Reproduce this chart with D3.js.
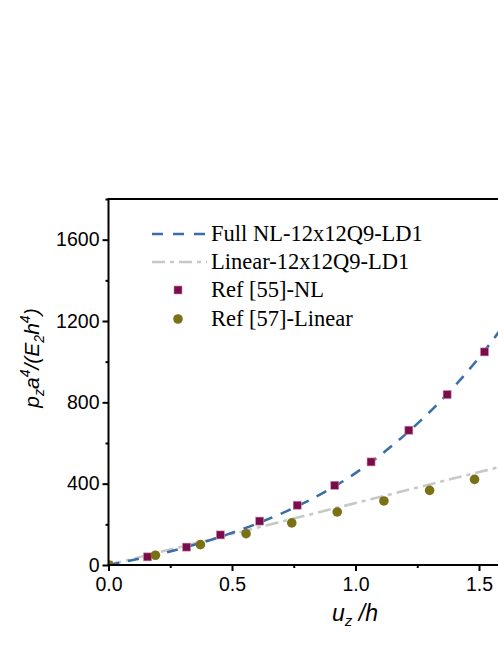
<!DOCTYPE html>
<html>
<head>
<meta charset="utf-8">
<script src="https://cdn.jsdelivr.net/npm/d3@7"></script>
<style>
  body { margin: 0; background: #fff; }
  svg { display: block; }
</style>
</head>
<body>
<svg id="chart" width="498" height="645"></svg>
<script>
// Full NL-12x12Q9-LD1 (dashed curve)
const nlX = [0, 0.2, 0.4, 0.6, 0.8, 1.0, 1.2, 1.4, 1.6, 1.7];
const nlY = [0, 52, 118, 203, 310, 452, 640, 878, 1180, 1365];

// Linear-12x12Q9-LD1 (dash-dot line)
const linX = [0, 1.7];
const linY = [0, 518];

// Ref [55]-NL squares
const sqX = [0, 0.158, 0.316, 0.453, 0.612, 0.764, 0.916, 1.063, 1.216, 1.371, 1.522];
const sqY = [0, 40, 88, 148, 216, 294, 392, 507, 663, 838, 1048];

// Ref [57]-Linear circles
const ciX = [0, 0.19, 0.372, 0.557, 0.742, 0.926, 1.115, 1.3, 1.482];
const ciY = [0, 48, 100, 154, 207, 261, 315, 367, 421];

const xMajor = [0, 0.5, 1.0, 1.5];
const xMinor = [0.25, 0.75, 1.25, 1.75];
const yMajor = [0, 400, 800, 1200, 1600];
const yMinor = [200, 600, 1000, 1400, 1800];

const legendNames = ["Full NL-12x12Q9-LD1", "Linear-12x12Q9-LD1", "Ref [55]-NL", "Ref [57]-Linear"];

var blue = "#3a6ea6",
  gray = "#c8c8c8",
  maroon = "#7a0c4b",
  olive = "#7a7117";

var svg = d3.select("#chart");

var x = d3.scaleLinear().domain([0, 2]).range([108.5, 602.5]);
var y = d3.scaleLinear().domain([0, 1800]).range([565, 199]);

var zip = function (xs, ys) {
  return xs.map(function (v, i) {
    return [v, ys[i]];
  });
};

svg
  .append("clipPath")
  .attr("id", "plotClip")
  .append("rect")
  .attr("x", x(0))
  .attr("y", y(1800))
  .attr("width", x(2) - x(0))
  .attr("height", y(0) - y(1800));

var plot = svg.append("g").attr("clip-path", "url(#plotClip)");

var line = d3
  .line()
  .x(function (d) { return x(d[0]); })
  .y(function (d) { return y(d[1]); })
  .curve(d3.curveMonotoneX);

plot
  .append("path")
  .datum(zip(linX, linY))
  .attr("d", line)
  .attr("fill", "none")
  .attr("stroke", gray)
  .attr("stroke-width", 2.6)
  .attr("stroke-dasharray", "13,5,4,5");

plot
  .append("path")
  .datum(zip(nlX, nlY))
  .attr("d", line)
  .attr("fill", "none")
  .attr("stroke", blue)
  .attr("stroke-width", 2.6)
  .attr("stroke-dasharray", "11,9");

plot
  .selectAll("rect.sq")
  .data(zip(sqX, sqY))
  .enter()
  .append("rect")
  .attr("class", "sq")
  .attr("x", function (d) { return x(d[0]) - 4; })
  .attr("y", function (d) { return y(d[1]) - 4; })
  .attr("width", 8)
  .attr("height", 8)
  .attr("fill", maroon)
  .attr("stroke", "#c98aaa")
  .attr("stroke-width", 0.6);

plot
  .selectAll("circle.ci")
  .data(zip(ciX, ciY))
  .enter()
  .append("circle")
  .attr("class", "ci")
  .attr("cx", function (d) { return x(d[0]); })
  .attr("cy", function (d) { return y(d[1]); })
  .attr("r", 4.8)
  .attr("fill", olive);

// axes
var xAxis = d3.axisBottom(x).tickValues(xMajor).tickSize(6).tickPadding(6)
  .tickFormat(d3.format(".1f"));
var xAxisMinor = d3.axisBottom(x).tickValues(xMinor).tickSize(3).tickFormat("");
var yAxis = d3.axisLeft(y).tickValues(yMajor).tickSize(6).tickPadding(3)
  .tickFormat(d3.format("d"));
var yAxisMinor = d3.axisLeft(y).tickValues(yMinor).tickSize(3).tickFormat("");

function styleAxis(g) {
  g.select(".domain").remove();
  g.selectAll("line").attr("stroke", "#000").attr("stroke-width", 2);
  g.selectAll("text")
    .attr("fill", "#000")
    .attr("font-family", "Liberation Sans, Arial, sans-serif")
    .attr("font-size", "19.5px");
}

svg.append("g").attr("transform", "translate(0," + y(0) + ")").call(xAxis).call(styleAxis);
svg.append("g").attr("transform", "translate(0," + y(0) + ")").call(xAxisMinor).call(styleAxis);
svg.append("g").attr("transform", "translate(" + x(0) + ",0)").call(yAxis).call(styleAxis);
svg.append("g").attr("transform", "translate(" + x(0) + ",0)").call(yAxisMinor).call(styleAxis);

// frame: left, bottom, top
svg
  .append("path")
  .attr("d", "M" + x(2) + "," + y(1800) + "H" + x(0) + "V" + y(0) + "H" + x(2))
  .attr("fill", "none")
  .attr("stroke", "#000")
  .attr("stroke-width", 2);

// axis titles
var xt = svg
  .append("text")
  .attr("x", 355)
  .attr("y", 621)
  .attr("text-anchor", "middle")
  .attr("font-family", "Liberation Sans, Arial, sans-serif")
  .attr("font-size", "23px")
  .attr("font-style", "italic");
xt.append("tspan").text("u");
xt.append("tspan").attr("font-size", "15px").attr("dy", 5).text("z");
xt.append("tspan").attr("dy", -5).text(" /h");

var yt = svg
  .append("text")
  .attr("transform", "translate(39,358) rotate(-90)")
  .attr("text-anchor", "middle")
  .attr("font-family", "Liberation Sans, Arial, sans-serif")
  .attr("font-size", "21px")
  .attr("font-style", "italic");
yt.append("tspan").text("p");
yt.append("tspan").attr("font-size", "14px").attr("dy", 5).text("z");
yt.append("tspan").attr("dy", -5).text("a");
yt.append("tspan").attr("font-size", "14px").attr("dy", -9).text("4");
yt.append("tspan").attr("dy", 9).text("/(E");
yt.append("tspan").attr("font-size", "14px").attr("dy", 5).text("2");
yt.append("tspan").attr("dy", -5).text("h");
yt.append("tspan").attr("font-size", "14px").attr("dy", -9).text("4");
yt.append("tspan").attr("dy", 9).text(")");

// legend
var legend = svg.append("g");
var rowY = [234, 262, 290, 319];

legend
  .append("line")
  .attr("x1", 152).attr("x2", 207)
  .attr("y1", rowY[0]).attr("y2", rowY[0])
  .attr("stroke", blue).attr("stroke-width", 2.6)
  .attr("stroke-dasharray", "11,10");
legend
  .append("line")
  .attr("x1", 152).attr("x2", 207)
  .attr("y1", rowY[1]).attr("y2", rowY[1])
  .attr("stroke", gray).attr("stroke-width", 2.6)
  .attr("stroke-dasharray", "13,5,4,5");
legend
  .append("rect")
  .attr("x", 178 - 4).attr("y", rowY[2] - 4)
  .attr("width", 8).attr("height", 8)
  .attr("fill", maroon).attr("stroke", "#c98aaa").attr("stroke-width", 0.6);
legend
  .append("circle")
  .attr("cx", 178).attr("cy", rowY[3]).attr("r", 4.8)
  .attr("fill", olive);

legend
  .selectAll("text")
  .data(legendNames)
  .enter()
  .append("text")
  .attr("x", 211)
  .attr("y", function (d, i) { return rowY[i] + 7; })
  .attr("font-family", "Liberation Serif, Times New Roman, serif")
  .attr("font-size", "22.5px")
  .attr("fill", "#000")
  .text(function (d) { return d; });
</script>
</body>
</html>
